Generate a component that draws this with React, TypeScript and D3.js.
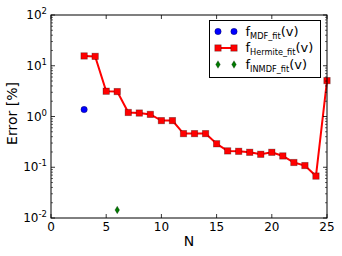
import React from "react";
import * as d3 from "d3";

// N values and errors
const hermiteN = [3, 4, 5, 6, 7, 8, 9, 10, 11, 12, 13, 14, 15, 16, 17, 18, 19, 20, 21, 22, 23, 24, 25];
const hermiteErr = [15.6, 15.3, 3.15, 3.1, 1.2, 1.17, 1.1, 0.83, 0.83, 0.46, 0.46, 0.46, 0.29, 0.21, 0.206, 0.197, 0.18, 0.197, 0.167, 0.124, 0.108, 0.067, 5.1];
const mdfN = [3];
const mdfErr = [1.37];
const inmdfN = [6];
const inmdfErr = [0.0144];

const xTicks = [0, 5, 10, 15, 20, 25];
const yExps = [-2, -1, 0, 1, 2];

const legendItems = [
  { sub: "MDF_fit", kind: "circle" },
  { sub: "Hermite_fit", kind: "square" },
  { sub: "INMDF_fit", kind: "diamond" },
];

const W = 342, H = 256;
const left = 51, right = 327, top = 15, bottom = 218;
const font = "DejaVu Sans, sans-serif";

function Marker({ kind, x, y }: { kind: string; x: number; y: number }) {
  if (kind === "circle") return <circle cx={x} cy={y} r={3.2} fill="#0000ff" stroke="#000" strokeWidth={0.3} />;
  if (kind === "square")
    return <rect x={x - 3.2} y={y - 3.2} width={6.4} height={6.4} fill="#ff0000" stroke="rgba(0,0,0,0.35)" strokeWidth={0.8} />;
  return (
    <path d={`M${x},${y - 3.8}L${x + 2.3},${y}L${x},${y + 3.8}L${x - 2.3},${y}Z`} fill="#007a00" stroke="rgba(0,0,0,0.5)" strokeWidth={0.5} />
  );
}

export default function App() {
  const x = d3.scaleLinear().domain([0, 25]).range([left, right]);
  const y = d3.scaleLog().domain([0.01, 100]).range([bottom, top]);

  const minor: number[] = [];
  for (let k = -2; k < 2; k++) for (let m = 2; m < 10; m++) minor.push(m * Math.pow(10, k));

  const line = d3
    .line<number>()
    .x((_, i) => x(hermiteN[i]))
    .y((d) => y(d));

  const lx = 209.5, ly = 20.5, lw = 111, lh = 57;

  return (
    <div style={{ position: "absolute", left: 0, top: 0 }}>
      <svg width={W} height={H} style={{ display: "block", background: "#fff" }}>
        {/* data */}
        <path d={line(hermiteErr) || ""} fill="none" stroke="#ff0000" strokeWidth={2} />
        {hermiteErr.map((d, i) => (
          <Marker key={"h" + i} kind="square" x={x(hermiteN[i])} y={y(d)} />
        ))}
        {mdfErr.map((d, i) => (
          <Marker key={"m" + i} kind="circle" x={x(mdfN[i])} y={y(d)} />
        ))}
        {inmdfErr.map((d, i) => (
          <Marker key={"n" + i} kind="diamond" x={x(inmdfN[i])} y={y(d)} />
        ))}

        {/* frame */}
        <rect x={left} y={top} width={right - left} height={bottom - top} fill="none" stroke="#000" strokeWidth={1} />

        {/* x ticks */}
        {xTicks.map((t) => (
          <g key={"x" + t}>
            <line x1={x(t)} x2={x(t)} y1={bottom} y2={bottom - 4} stroke="#000" strokeWidth={0.8} />
            <line x1={x(t)} x2={x(t)} y1={top} y2={top + 4} stroke="#000" strokeWidth={0.8} />
            <text x={x(t)} y={bottom + 13} textAnchor="middle" fontFamily={font} fontSize={12}>
              {t}
            </text>
          </g>
        ))}

        {/* y ticks */}
        {yExps.map((e) => {
          const yy = y(Math.pow(10, e));
          return (
            <g key={"y" + e}>
              <line x1={left} x2={left + 4} y1={yy} y2={yy} stroke="#000" strokeWidth={0.8} />
              <line x1={right} x2={right - 4} y1={yy} y2={yy} stroke="#000" strokeWidth={0.8} />
              <text x={left - 4} y={yy + 4} textAnchor="end" fontFamily={font} fontSize={12}>
                10
                <tspan fontSize={8.5} dy={-5}>
                  {e}
                </tspan>
              </text>
            </g>
          );
        })}
        {minor.map((v) => (
          <g key={"mn" + v}>
            <line x1={left} x2={left + 2} y1={y(v)} y2={y(v)} stroke="#000" strokeWidth={0.6} />
            <line x1={right} x2={right - 2} y1={y(v)} y2={y(v)} stroke="#000" strokeWidth={0.6} />
          </g>
        ))}

        {/* axis labels */}
        <text x={(left + right) / 2} y={246} textAnchor="middle" fontFamily={font} fontSize={14}>
          N
        </text>
        <text transform={`translate(17,${(top + bottom) / 2 - 3}) rotate(-90)`} textAnchor="middle" fontFamily={font} fontSize={14}>
          Error [%]
        </text>

        {/* legend */}
        <rect x={lx} y={ly} width={lw} height={lh} fill="#fff" stroke="#000" strokeWidth={1} />
        {legendItems.map((it, i) => {
          const cy = 31.5 + i * 16.5;
          return (
            <g key={it.sub}>
              {it.kind === "square" && <line x1={217} x2={235} y1={cy} y2={cy} stroke="#ff0000" strokeWidth={2} />}
              <Marker kind={it.kind} x={218} y={cy} />
              <Marker kind={it.kind} x={234} y={cy} />
              <text x={245.5} y={cy + 4} fontFamily={font} fontSize={13}>
                f
                <tspan fontSize={8.2} dy={3}>
                  {it.sub}
                </tspan>
                <tspan fontSize={13} dy={-3}>
                  (v)
                </tspan>
              </text>
            </g>
          );
        })}
      </svg>
    </div>
  );
}
